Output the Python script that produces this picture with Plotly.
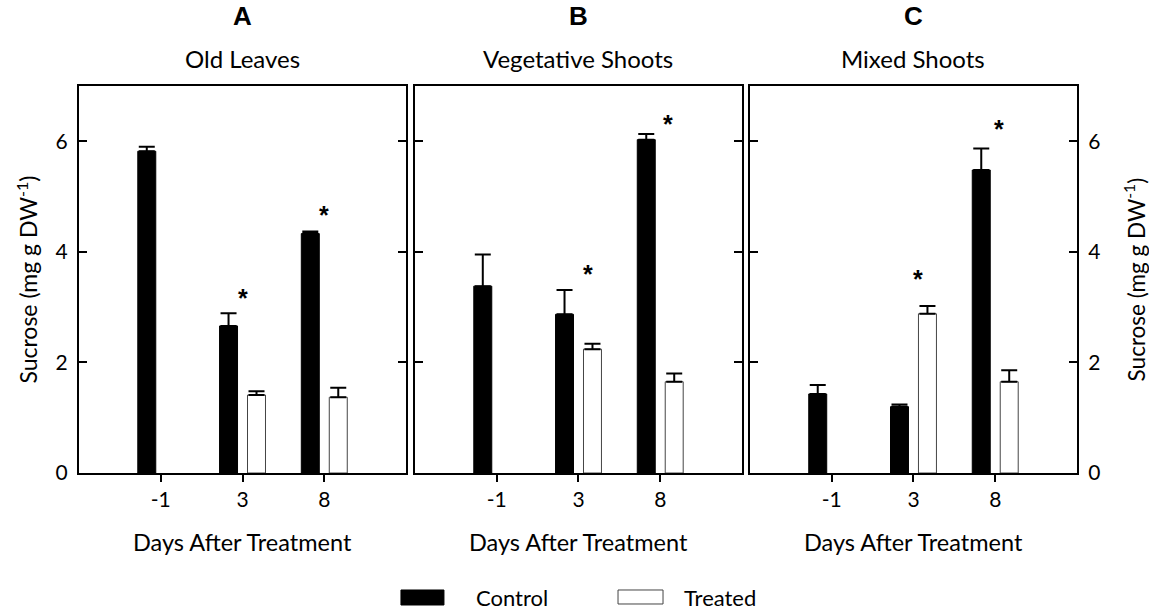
import plotly.graph_objects as go

# Sucrose content per tissue, days after treatment
days = ["-1", "3", "8"]
panels = ["A", "B", "C"]
tissues = ["Old Leaves", "Vegetative Shoots", "Mixed Shoots"]

control_A = [5.82, 2.66, 4.33]
control_A_se = [0.08, 0.23, 0.04]
treated_A = [None, 1.41, 1.37]
treated_A_se = [0, 0.07, 0.17]

control_B = [3.38, 2.87, 6.03]
control_B_se = [0.57, 0.44, 0.10]
treated_B = [None, 2.24, 1.65]
treated_B_se = [0, 0.10, 0.15]

control_C = [1.43, 1.20, 5.48]
control_C_se = [0.16, 0.04, 0.39]
treated_C = [None, 2.88, 1.65]
treated_C_se = [0, 0.14, 0.21]

# significance markers: (day index, height)
stars_A = [(1, 3.26), (2, 4.76)]
stars_B = [(1.12, 3.69), (2.09, 6.40)]
stars_C = [(1.05, 3.60), (2.04, 6.31)]

y_ticks = [0, 2, 4, 6]

FONT = "Lato, 'Open Sans', sans-serif"
BOLD = "'Liberation Sans', Arial, sans-serif"

data = [
    (control_A, control_A_se, treated_A, treated_A_se, stars_A),
    (control_B, control_B_se, treated_B, treated_B_se, stars_B),
    (control_C, control_C_se, treated_C, treated_C_se, stars_C),
]

domains = [[0.0, 0.3277], [0.3367, 0.6643], [0.6723, 1.0]]
xpos = [1, 2, 3]

fig = go.Figure()
annotations = []

for i, (ctl, ctl_se, trt, trt_se, stars) in enumerate(data):
    sfx = "" if i == 0 else str(i + 1)
    xa, ya = "x" + sfx, "y" + sfx
    fig.add_trace(go.Bar(
        x=xpos, y=ctl, xaxis=xa, yaxis=ya, name="Control",
        marker=dict(color="black", line=dict(color="black", width=1)),
        error_y=dict(type="data", array=ctl_se, arrayminus=[0] * 3,
                     symmetric=False, color="black", thickness=2, width=8),
        showlegend=False,
    ))
    fig.add_trace(go.Bar(
        x=xpos, y=trt, xaxis=xa, yaxis=ya, name="Treated",
        marker=dict(color="white", line=dict(color="#444444", width=1)),
        error_y=dict(type="data", array=trt_se, arrayminus=[0] * 3,
                     symmetric=False, color="black", thickness=2, width=8),
        showlegend=False,
    ))
    for sx, sy in stars:
        annotations.append(dict(
            x=xpos[0] + sx, y=sy, xref=xa, yref=ya, text="<b>*</b>",
            showarrow=False, font=dict(family=BOLD, size=25, color="black"),
            yanchor="middle", xanchor="center", yshift=-5,
        ))
    cx = (domains[i][0] + domains[i][1]) / 2
    annotations.append(dict(
        x=cx, y=1.181, xref="paper", yref="paper", text="<b>%s</b>" % panels[i],
        showarrow=False, font=dict(family=BOLD, size=26, color="black"),
        xanchor="center", yanchor="middle",
    ))
    annotations.append(dict(
        x=cx, y=1.072, xref="paper", yref="paper", text=tissues[i],
        showarrow=False, font=dict(family=FONT, size=24, color="black"),
        xanchor="center", yanchor="middle",
    ))
    annotations.append(dict(
        x=cx, y=-0.178, xref="paper", yref="paper", text="Days After Treatment",
        showarrow=False, font=dict(family=FONT, size=23.5, color="black"),
        xanchor="center", yanchor="middle",
    ))

    fig.update_layout(**{
        "xaxis" + sfx: dict(
            domain=domains[i], range=[0, 4], tickvals=xpos, ticktext=days,
            ticks="outside", ticklen=7, tickwidth=2, tickcolor="black",
            showline=True, linecolor="black", linewidth=2, mirror=True,
            showgrid=False, zeroline=False, anchor=ya,
            tickfont=dict(family=FONT, size=21, color="black"),
        ),
        "yaxis" + sfx: dict(
            domain=[0, 1], range=[0, 7], tickvals=y_ticks,
            ticks="inside", ticklen=8, tickwidth=2, tickcolor="black",
            showline=True, linecolor="black", linewidth=2, mirror="ticks",
            showgrid=False, zeroline=False, anchor=xa,
            showticklabels=(i != 1), side="right" if i == 2 else "left",
            tickfont=dict(family=FONT, size=21, color="black"),
            ticklabelstandoff=5,
        ),
    })

ytitle = "Sucrose (mg g DW<sup>-1</sup>)"
annotations.append(dict(
    x=-0.052, y=0.5, xref="paper", yref="paper", text=ytitle, textangle=-90,
    showarrow=False, font=dict(family=FONT, size=23, color="black"),
    xanchor="center", yanchor="middle",
))
annotations.append(dict(
    x=1.057, y=0.5, xref="paper", yref="paper", text=ytitle, textangle=-90,
    showarrow=False, font=dict(family=FONT, size=22.5, color="black"),
    xanchor="center", yanchor="middle",
))

# legend swatches and labels
shapes = [
    dict(type="rect", xref="paper", yref="paper", x0=0.3226, x1=0.3657,
         y0=-0.3411, y1=-0.3023, fillcolor="black", line=dict(color="black", width=1)),
    dict(type="rect", xref="paper", yref="paper", x0=0.5401, x1=0.5852,
         y0=-0.3385, y1=-0.3023, fillcolor="white", line=dict(color="#444444", width=1)),
]
annotations.append(dict(
    x=0.3958, y=-0.322, xref="paper", yref="paper", text="Control",
    showarrow=False, font=dict(family=FONT, size=22, color="black"),
    xanchor="left", yanchor="middle",
))
annotations.append(dict(
    x=0.6042, y=-0.322, xref="paper", yref="paper", text="Treated",
    showarrow=False, font=dict(family=FONT, size=22, color="black"),
    xanchor="left", yanchor="middle",
))

fig.update_layout(
    width=1149, height=610,
    margin=dict(l=79, r=72, t=86, b=137),
    paper_bgcolor="white", plot_bgcolor="white",
    barmode="group", bargap=0.316, bargroupgap=0.357,
    annotations=annotations, shapes=shapes,
    font=dict(family=FONT, color="black"),
)

fig.write_html("out.html")
